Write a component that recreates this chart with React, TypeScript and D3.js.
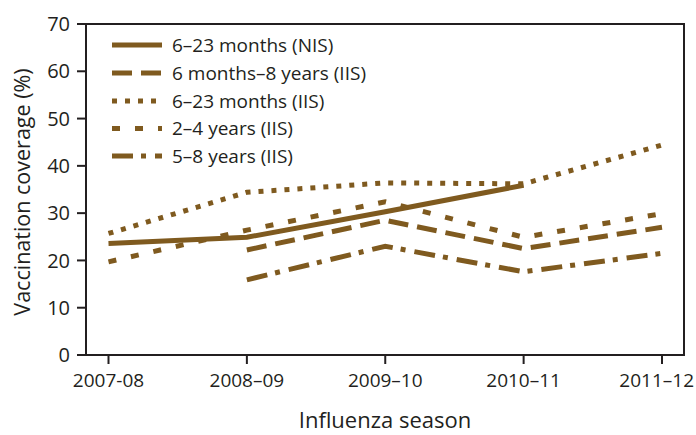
import React from "react";
import * as d3 from "d3";

const seasons = ["2007-08", "2008–09", "2009–10", "2010–11", "2011–12"];
const yTicks = [0, 10, 20, 30, 40, 50, 60, 70];

const nis623 = [23.6, 24.9, 30.3, 35.9, null];
const iis6m8y = [null, 22.2, 28.5, 22.5, 27.0];
const iis623 = [25.7, 34.4, 36.4, 36.2, 44.4];
const iis24 = [19.7, 26.4, 32.4, 24.9, 29.9];
const iis58 = [null, 15.9, 23.0, 17.6, 21.5];

const seriesNames = [
  "6–23 months (NIS)",
  "6 months–8 years (IIS)",
  "6–23 months (IIS)",
  "2–4 years (IIS)",
  "5–8 years (IIS)",
];
const seriesValues = [nis623, iis6m8y, iis623, iis24, iis58];
const dashes = ["none", "20 9", "5 8", "8 15", "21 8 5 9"];

const COLOR = "#7f5a1f";
const AXIS = "#231f20";
const FONT = "'Open Sans', 'Noto Sans', sans-serif";

export default function App() {
  const W = 696, H = 435;
  const left = 86, right = 684, top = 24, bottom = 355;
  const x = d3.scalePoint<string>().domain(seasons).range([108.5, 662]);
  const y = d3.scaleLinear().domain([0, 70]).range([bottom, top]);

  const line = d3
    .line<number | null>()
    .defined((d) => d != null)
    .x((_, i) => x(seasons[i]) as number)
    .y((d) => y(d as number));

  const legendY = [45, 73, 101, 128.5, 156];

  return (
    <svg width={W} height={H} style={{ display: "block", position: "absolute", left: 0, top: 0 }}>
      <rect x={0} y={0} width={W} height={H} fill="#fff" />
      {seriesValues.map((vals, i) => (
        <path
          key={i}
          d={line(vals as (number | null)[]) || ""}
          fill="none"
          stroke={COLOR}
          strokeWidth={5}
          strokeDasharray={dashes[i]}
        />
      ))}
      <rect x={left} y={top} width={right - left} height={bottom - top} fill="none" stroke={AXIS} strokeWidth={2} />
      {yTicks.map((t) => (
        <g key={t}>
          <line x1={left - 9} x2={left} y1={y(t)} y2={y(t)} stroke={AXIS} strokeWidth={2} />
          <text x={70} y={y(t)} dy="0.36em" textAnchor="end" fontSize={20} fontFamily={FONT} fill={AXIS}>
            {t}
          </text>
        </g>
      ))}
      {seasons.map((s, i) => {
        const last = i === seasons.length - 1;
        return (
          <g key={s}>
            <line x1={x(s)} x2={x(s)} y1={bottom} y2={bottom + 9} stroke={AXIS} strokeWidth={2} />
            <text
              x={last ? 694 : (x(s) as number)}
              y={387}
              textAnchor={last ? "end" : "middle"}
              fontSize={19}
              fontFamily={FONT}
              fill={AXIS}
            >
              {s}
            </text>
          </g>
        );
      })}
      <text x={385} y={428} textAnchor="middle" fontSize={22} fontFamily={FONT} fill={AXIS}>
        Influenza season
      </text>
      <text
        transform={`translate(30, 192) rotate(-90)`}
        textAnchor="middle"
        fontSize={21.5}
        fontFamily={FONT}
        fill={AXIS}
      >
        Vaccination coverage (%)
      </text>
      {seriesNames.map((n, i) => (
        <g key={n}>
          <line
            x1={112}
            x2={162}
            y1={legendY[i]}
            y2={legendY[i]}
            stroke={COLOR}
            strokeWidth={5}
            strokeDasharray={dashes[i]}
          />
          <text x={172} y={legendY[i]} dy="0.36em" fontSize={19} fontFamily={FONT} fill={AXIS}>
            {n}
          </text>
        </g>
      ))}
    </svg>
  );
}
